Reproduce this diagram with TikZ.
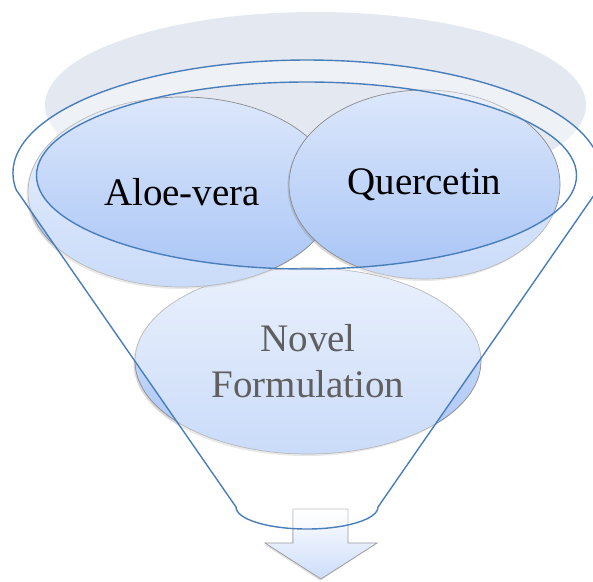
\documentclass[tikz,border=0pt]{standalone}
\usepackage{fontspec}
\setmainfont{Liberation Serif}
\usetikzlibrary{shapes.geometric,shadows}
\definecolor{rimblue}{HTML}{4A7EBB}
\definecolor{balltop}{HTML}{DCE7FB}
\definecolor{ballbottom}{HTML}{A7C4F6}
\definecolor{backgray}{HTML}{E3E8F1}
\definecolor{labelgray}{HTML}{5F5F5F}
\newcommand\biglabel{\fontsize{39}{46}\selectfont}
\def\funnelx{307}
\def\rimy{173}

\begin{document}
\begin{tikzpicture}[x=1pt,y=-1pt,
    ball/.style={
      ellipse, inner sep=0pt,
      draw=black!45, line width=0.7pt,
      top color=balltop, bottom color=ballbottom,
      drop shadow={shadow xshift=-1.5pt, shadow yshift=-2pt, opacity=0.3}
    },
    balltext/.style={
      font=\biglabel, align=center, inner sep=0pt
    },
    rim/.style={
      draw=rimblue, line width=1.4pt
    },
    downarrow/.style={
      draw=black!40, line width=0.7pt,
      top color=white, bottom color=balltop!70!ballbottom,
      drop shadow={shadow xshift=-1pt, shadow yshift=-1.5pt, opacity=0.25}
    }
  ]
    \useasboundingbox (0,0) rectangle (593,581);

    % back of the funnel
    \fill[backgray] (315.5,105) ellipse[x radius=270.5, y radius=93];

    % the three items
    \node[ball, minimum width=346pt, minimum height=186pt] (Novel) at (308,361) {};
    \node[ball, minimum width=308pt, minimum height=190pt] (Aloe) at (182,192) {};
    \node[ball, minimum width=271pt, minimum height=189pt] (Quercetin) at (424.5,184.5) {};

    % arrow out of the funnel
    \draw[downarrow] (293,509) -- (348,509) -- (348,543) -- (377,543)
      -- (321,579) -- (265,543) -- (293,543) -- cycle;

    % funnel
    \coordinate (RimL) at (16.3,190);
    \coordinate (SpoutR) at (378,507);
    \fill[white, fill opacity=0.4, even odd rule]
      (RimL) arc[start angle=171.35, end angle=368.65, x radius=294, y radius=113]
      -- (SpoutR) arc[start angle=0, end angle=180, x radius=71, y radius=22]
      -- cycle
      (\funnelx-0.5,175.5) ellipse[x radius=270, y radius=93.5];
    \draw[rim]
      (RimL) arc[start angle=171.35, end angle=368.65, x radius=294, y radius=113]
      -- (SpoutR) arc[start angle=0, end angle=180, x radius=71, y radius=22]
      -- cycle;
    \draw[rim] (\funnelx-0.5,175.5) ellipse[x radius=270, y radius=93.5];

    % labels on top
    \node[balltext] (AloeText) at (Aloe) {Aloe-vera};
    \node[balltext] (QuercetinText) at (Quercetin) {Quercetin};
    \node[balltext, text=labelgray] (NovelText) at (Novel) {Novel\\Formulation};
  \end{tikzpicture}
\end{document}
